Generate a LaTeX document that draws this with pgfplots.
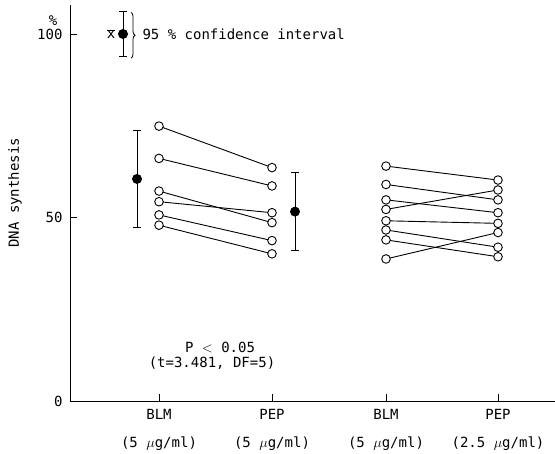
\documentclass[border=0pt]{standalone}
\usepackage{pgfplots}
\pgfplotsset{compat=1.18}
\usepackage{fontspec}
\setmainfont{DejaVu Sans Mono}
\usetikzlibrary{decorations.pathreplacing}
\newcommand{\fs}{\fontsize{14}{17}\selectfont}
\begin{document}
\begin{tikzpicture}
\path[use as bounding box] (0,0) rectangle (555pt,454pt);
\begin{axis}[
  at={(70pt,53pt)}, anchor=south west,
  scale only axis, width=485pt, height=396pt,
  xmin=70, xmax=555, ymin=0, ymax=107.9,
  axis x line*=bottom, axis y line*=left,
  clip=false,
  xtick={159,272,386,498},
  xticklabels={{BLM\\[11pt](5 $\mu$g/ml)},{PEP\\[11pt](5 $\mu$g/ml)},{BLM\\[11pt](5 $\mu$g/ml)},{PEP\\[11pt](2.5 $\mu$g/ml)}},
  xticklabel style={align=center, font=\fs, yshift=-5pt},
  ytick={0,50,100},
  yticklabel style={font=\fs, xshift=-4pt},
  /pgf/number format/assume math mode=true,
  major tick length=7pt,
  tick align=inside,
  tick style={black, line width=0.8pt},
  axis line style={black, line width=0.9pt},
  every axis plot/.append style={line width=0.9pt},
  pair/.style={black, mark=*, mark size=4.3pt, mark options={fill=white, line width=0.9pt}},
  meanp/.style={black, only marks, mark=*, mark size=4.5pt,
    error bars/.cd, y dir=both, y explicit,
    error mark=-,
    error bar style={line width=0.9pt},
    error mark options={rotate=90, line width=0.9pt, mark size=4pt, black}},
]
% left group: BLM (5) -> PEP (5)
\addplot[pair] coordinates {(159,74.9) (272,63.6)};
\addplot[pair] coordinates {(159,66.1) (272,58.6)};
\addplot[pair] coordinates {(159,57.2) (272,48.6)};
\addplot[pair] coordinates {(159,54.3) (272,51.3)};
\addplot[pair] coordinates {(159,50.7) (272,43.7)};
\addplot[pair] coordinates {(159,47.9) (272,40.1)};
% right group: BLM (5) -> PEP (2.5)
\addplot[pair] coordinates {(386,64.0) (498,60.2)};
\addplot[pair] coordinates {(386,59.0) (498,54.8)};
\addplot[pair] coordinates {(386,54.8) (498,51.3)};
\addplot[pair] coordinates {(386,52.2) (498,57.5)};
\addplot[pair] coordinates {(386,49.1) (498,48.4)};
\addplot[pair] coordinates {(386,46.6) (498,41.9)};
\addplot[pair] coordinates {(386,43.9) (498,39.3)};
\addplot[pair] coordinates {(386,38.7) (498,45.9)};
% means with 95% CI
\addplot[meanp] coordinates {(137,60.5) +- (0,13.1)};
\addplot[meanp] coordinates {(295,51.6) +- (0,10.6)};
% key
\addplot[meanp] coordinates {(123,100.0) +- (0,6.25)};
\node[font=\fs] at (axis cs:111,100) {$\overline{\mbox{x}}$};
\draw[decorate, decoration={brace, amplitude=4pt}, line width=0.8pt] (axis cs:131,105.9) -- (axis cs:131,93.4);
\node[font=\fs, anchor=west] at (axis cs:139,100) {95 \% confidence interval};
\node[font=\fs] at (axis cs:53,103.6) {\%};
\node[font=\fs, rotate=90] at (axis cs:15,56.7) {DNA synthesis};
\node[font=\fs] at (axis cs:220,14.7) {P $<$ 0.05};
\node[font=\fs] at (axis cs:212,10.35) {(t=3.481, DF=5)};
\end{axis}
\end{tikzpicture}
\end{document}
